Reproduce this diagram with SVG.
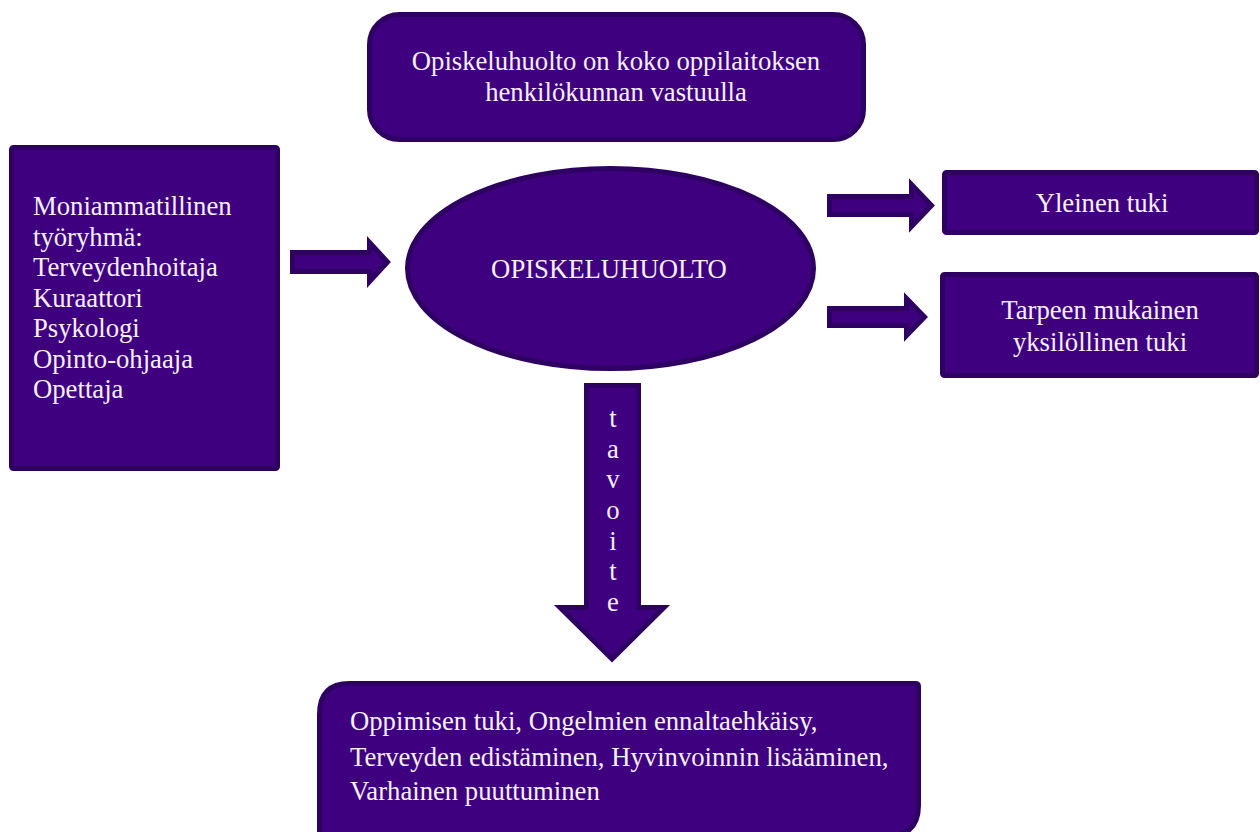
<svg xmlns="http://www.w3.org/2000/svg" width="1260" height="832" viewBox="0 0 1260 832">
<style>
.s{fill:#3f007f;stroke:#2d0062;stroke-width:5;stroke-linejoin:miter}
.t{font-family:"Liberation Serif","Times New Roman",serif;font-size:26.7px;fill:#f6f0ff}
.c{text-anchor:middle}
</style>
<rect width="1260" height="832" fill="#ffffff"/>
<g id="connectors">
<path class="s" d="M292.5,252.5 H369.5 V242.5 L387.5,262 L369.5,281.5 V271.5 H292.5 Z"/>
<path class="s" d="M829.5,196.5 H911.5 V184.5 L931.5,205.5 L911.5,226.5 V214.5 H829.5 Z"/>
<path class="s" d="M829.5,308.5 H906.5 V298.5 L924.5,317 L906.5,335.5 V325.5 H829.5 Z"/>
<g id="tavoite">
<path class="s" d="M586.5,385.5 H638.5 V607.5 H664 L612,659 L560,607.5 H586.5 Z"/>
<text class="t c" x="613" y="427">t</text>
<text class="t c" x="613" y="458">a</text>
<text class="t c" x="613" y="488">v</text>
<text class="t c" x="613" y="519">o</text>
<text class="t c" x="613" y="550">i</text>
<text class="t c" x="613" y="580">t</text>
<text class="t c" x="613" y="611">e</text>
</g>
</g>
<g id="top">
<rect class="s" x="369.5" y="14.5" width="494" height="125" rx="30"/>
<text class="t c" x="616" y="70">Opiskeluhuolto on koko oppilaitoksen</text>
<text class="t c" x="616" y="101">henkilökunnan vastuulla</text>
</g>
<g id="team">
<rect class="s" x="11.5" y="147.5" width="266" height="321" rx="2"/>
<text class="t" x="33" y="215">Moniammatillinen</text>
<text class="t" x="33" y="246">työryhmä:</text>
<text class="t" x="33" y="276">Terveydenhoitaja</text>
<text class="t" x="33" y="307">Kuraattori</text>
<text class="t" x="33" y="337">Psykologi</text>
<text class="t" x="33" y="368">Opinto-ohjaaja</text>
<text class="t" x="33" y="398">Opettaja</text>
</g>
<g id="center">
<ellipse class="s" cx="610.5" cy="268.5" rx="203" ry="100"/>
<text class="t c" x="609" y="278">OPISKELUHUOLTO</text>
</g>
<g id="yleinen">
<rect class="s" x="944.5" y="172.5" width="312" height="60" rx="2"/>
<text class="t c" x="1102" y="212">Yleinen tuki</text>
</g>
<g id="tarpeen">
<rect class="s" x="942.5" y="274.5" width="314" height="101" rx="2"/>
<text class="t c" x="1100" y="319">Tarpeen mukainen</text>
<text class="t c" x="1100" y="351">yksilöllinen tuki</text>
</g>
<g id="tavoitteet">
<path class="s" d="M349.5,683.5 H915.5 Q918.5,683.5 918.5,686.5 V805 Q918.5,836 887.5,836 H319.5 V714.5 Q319.5,683.5 349.5,683.5 Z"/>
<text class="t" x="350" y="730">Oppimisen tuki, Ongelmien ennaltaehkäisy,</text>
<text class="t" x="350" y="766">Terveyden edistäminen, Hyvinvoinnin lisääminen,</text>
<text class="t" x="350" y="800">Varhainen puuttuminen</text>
</g>
</svg>
